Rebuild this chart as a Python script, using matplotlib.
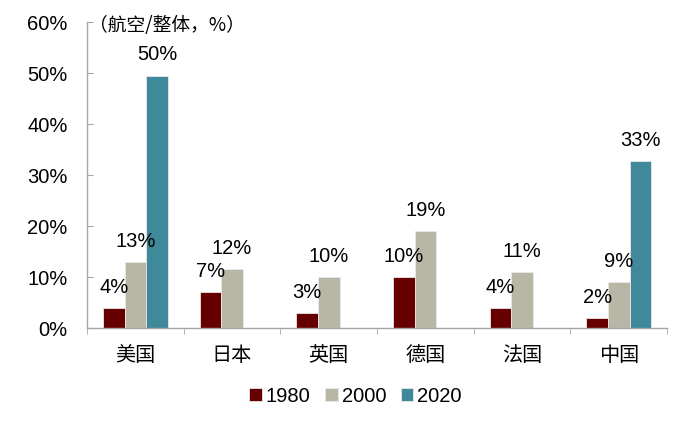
import numpy as np
import matplotlib.pyplot as plt
from matplotlib.ticker import FixedLocator, PercentFormatter

plt.rcParams['font.family'] = ['Liberation Sans', 'Noto Sans CJK SC', 'DejaVu Sans']

# data (航空/整体, %)
countries = ['美国', '日本', '英国', '德国', '法国', '中国']
years = ['1980', '2000', '2020']
v1980 = [4, 7, 3, 10, 4, 2]
v2000 = [13, 11.5, 10, 19, 11, 9]
v2020 = [49.5, np.nan, np.nan, np.nan, np.nan, 32.8]
labels1980 = ['4%', '7%', '3%', '10%', '4%', '2%']
labels2000 = ['13%', '12%', '10%', '19%', '11%', '9%']
labels2020 = ['50%', '', '', '', '', '33%']

colors = ['#660000', '#B8B7A6', '#3F899B']

fig = plt.figure(figsize=(7, 4.25), dpi=100)
ax = fig.add_axes([0.1243, 0.2282, 0.8287, 0.7200])

x = np.arange(len(countries))
w = 0.224
series = [v1980, v2000, v2020]
series_labels = [labels1980, labels2000, labels2020]
for i, (vals, labs) in enumerate(zip(series, series_labels)):
    pos = x + (i - 1) * w
    bars = ax.bar(pos, vals, width=w, color=colors[i], edgecolor='#E8E8E8',
                  linewidth=0.6, label=years[i])
    for p, v, t in zip(pos, vals, labs):
        if t and not np.isnan(v):
            ax.annotate(t, (p, v), xytext=(0, 8), textcoords='offset points',
                        ha='center', va='bottom', fontsize=14.5)

ax.set_xlim(-0.5, len(countries) - 0.5)
ax.set_ylim(0, 60)
ax.set_yticks(np.arange(0, 61, 10))
ax.yaxis.set_major_formatter(PercentFormatter(decimals=0))
ax.set_xticks(x)
ax.set_xticklabels(countries, fontsize=14.5)
ax.xaxis.set_minor_locator(FixedLocator(np.arange(-0.5, len(countries), 1)))

ax.tick_params(axis='x', which='major', length=0, pad=13)
ax.tick_params(axis='x', which='minor', length=4, direction='out', color='#A6A6A6')
ax.tick_params(axis='y', length=4.5, direction='in', color='#A6A6A6', pad=14, labelsize=14.5)

for s in ['top', 'right']:
    ax.spines[s].set_visible(False)
for s in ['left', 'bottom']:
    ax.spines[s].set_color('#A6A6A6')
    ax.spines[s].set_linewidth(1)

ax.text(0.004, 0.99, '（航空/整体，%）', transform=ax.transAxes, fontsize=13.5,
        ha='left', va='center', family=['Noto Sans CJK SC', 'DejaVu Sans'])

fig.legend(loc='center', bbox_to_anchor=(0.508, 0.068), ncol=3, frameon=False,
           fontsize=14.5, handlelength=0.6, handleheight=0.6, handletextpad=0.2,
           columnspacing=0.75)

fig.savefig('out.png', dpi=100)
